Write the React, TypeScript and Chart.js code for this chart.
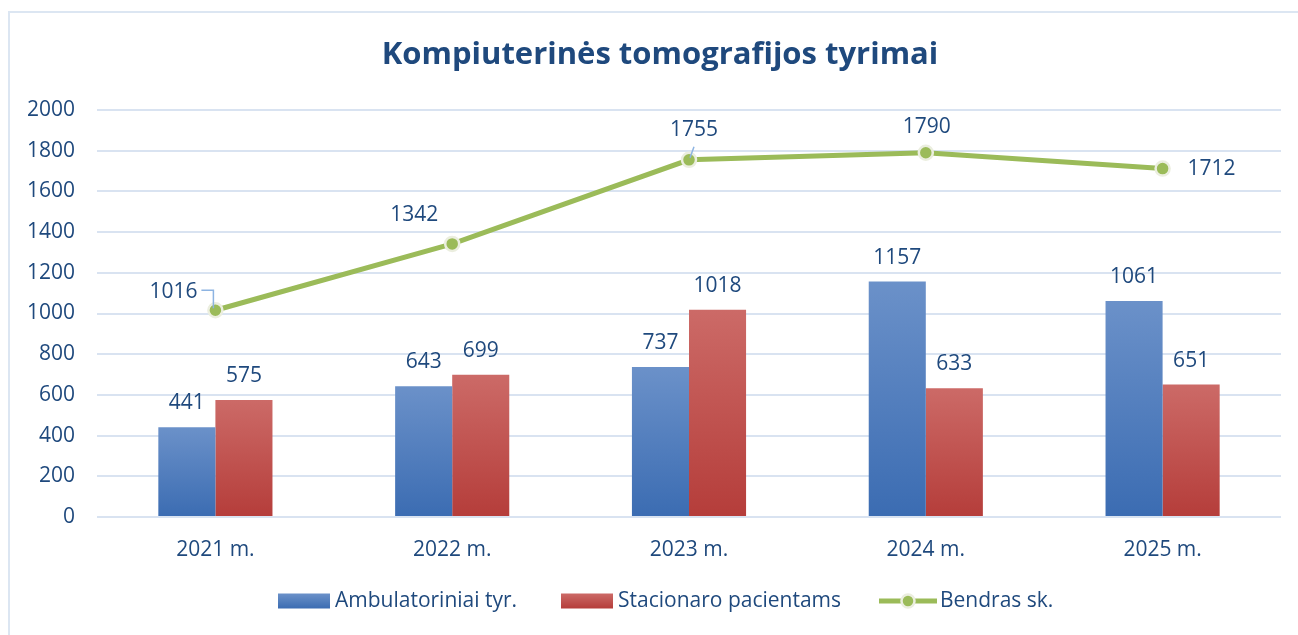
import React, { useEffect, useRef } from "react";
import { Chart, registerables } from "chart.js";

Chart.register(...registerables);

const categories = ["2021 m.", "2022 m.", "2023 m.", "2024 m.", "2025 m."];
const ambulatoriniai = [441, 643, 737, 1157, 1061];
const stacionaro = [575, 699, 1018, 633, 651];
const bendras = [1016, 1342, 1755, 1790, 1712];
const seriesNames = ["Ambulatoriniai tyr.", "Stacionaro pacientams", "Bendras sk."];
const yMin = 0;
const yMax = 2000;
const yStep = 200;
const title = "Kompiuterinės tomografijos tyrimai";

// label placement offsets (styling) for line data labels, relative to point
const lineLabelOffsets = [
  [-42, -18],
  [-38, -29],
  [5, -30],
  [1, -26],
  [49, 0],
];

const TEXT = "#1F497D";
const FONT = "'Open Sans', Lato, sans-serif";
const FS = 21;
const GREEN = "#9BBB59";
const POINT_BORDER = "#EBEEDF";
const BLUE_TOP = "#6B91C9";
const BLUE_BOT = "#3B6CB2";
const RED_TOP = "#CC6A67";
const RED_BOT = "#B53D3A";

function barGradient(ctx: any, top: string, bot: string) {
  const chart = ctx.chart;
  if (!chart.chartArea || ctx.raw == null) return bot;
  const ys = chart.scales.y;
  const t = ys.getPixelForValue(ctx.raw);
  const b = ys.getPixelForValue(0);
  const g = chart.ctx.createLinearGradient(0, t, 0, b);
  g.addColorStop(0, top);
  g.addColorStop(1, bot);
  return g;
}

const decorPlugin = {
  id: "decor",
  afterDatasetsDraw(chart: any) {
    const c = chart.ctx;
    c.save();
    c.font = `${FS}px ${FONT}`;
    c.fillStyle = TEXT;
    c.textAlign = "center";
    c.textBaseline = "middle";
    [0, 1].forEach((di) => {
      const meta = chart.getDatasetMeta(di);
      meta.data.forEach((el: any, i: number) => {
        const v = chart.data.datasets[di].data[i];
        c.fillText(String(v), el.x, el.y - 24);
      });
    });
    const lm = chart.getDatasetMeta(2);
    // leader lines
    c.strokeStyle = "#8DB4E2";
    c.lineWidth = 1.5;
    const p0 = lm.data[0];
    c.beginPath();
    c.moveTo(p0.x - 14, p0.y - 20);
    c.lineTo(p0.x - 2, p0.y - 20);
    c.lineTo(p0.x - 2, p0.y - 2);
    c.stroke();
    const p2 = lm.data[2];
    c.beginPath();
    c.moveTo(p2.x + 5, p2.y - 13);
    c.lineTo(p2.x + 1, p2.y - 2);
    c.stroke();
    lm.data.forEach((el: any, i: number) => {
      const v = chart.data.datasets[2].data[i];
      const o = lineLabelOffsets[i];
      c.fillText(String(v), el.x + o[0], el.y + o[1]);
    });
    c.restore();
  },
  afterDraw(chart: any) {
    const c = chart.ctx;
    c.save();
    // title
    c.font = `bold 31px ${FONT}`;
    c.fillStyle = TEXT;
    c.textAlign = "center";
    c.textBaseline = "middle";
    c.fillText(title, 650, 42);
    // legend
    c.font = `${FS}px ${FONT}`;
    c.textAlign = "left";
    const ly = 588;
    const drawBox = (x: number, top: string, bot: string) => {
      const g = c.createLinearGradient(0, ly - 7.5, 0, ly + 7.5);
      g.addColorStop(0, top);
      g.addColorStop(1, bot);
      c.fillStyle = g;
      c.fillRect(x, ly - 7.5, 52, 15);
    };
    drawBox(268, BLUE_TOP, BLUE_BOT);
    c.fillStyle = TEXT;
    c.fillText(seriesNames[0], 325, ly);
    drawBox(551, RED_TOP, RED_BOT);
    c.fillStyle = TEXT;
    c.fillText(seriesNames[1], 608, ly);
    c.strokeStyle = GREEN;
    c.lineWidth = 5;
    c.beginPath();
    c.moveTo(869, ly);
    c.lineTo(927, ly);
    c.stroke();
    c.beginPath();
    c.arc(898, ly, 6.5, 0, Math.PI * 2);
    c.fillStyle = GREEN;
    c.fill();
    c.lineWidth = 2.5;
    c.strokeStyle = POINT_BORDER;
    c.stroke();
    c.fillStyle = TEXT;
    c.fillText(seriesNames[2], 930, ly);
    c.restore();
  },
};

export default function App() {
  const ref = useRef<HTMLCanvasElement>(null);
  useEffect(() => {
    if (!ref.current) return;
    const chart = new Chart(ref.current, {
      type: "bar",
      data: {
        labels: categories,
        datasets: [
          {
            type: "bar",
            label: seriesNames[0],
            data: ambulatoriniai,
            backgroundColor: (ctx: any) => barGradient(ctx, BLUE_TOP, BLUE_BOT),
            categoryPercentage: 0.482,
            barPercentage: 1,
            order: 2,
          },
          {
            type: "bar",
            label: seriesNames[1],
            data: stacionaro,
            backgroundColor: (ctx: any) => barGradient(ctx, RED_TOP, RED_BOT),
            categoryPercentage: 0.482,
            barPercentage: 1,
            order: 2,
          },
          {
            type: "line",
            label: seriesNames[2],
            data: bendras,
            borderColor: GREEN,
            borderWidth: 5,
            backgroundColor: GREEN,
            pointRadius: 7,
            pointBackgroundColor: GREEN,
            pointBorderColor: POINT_BORDER,
            pointBorderWidth: 2.5,
            tension: 0,
            order: 0,
          } as any,
        ],
      },
      options: {
        animation: false,
        responsive: false,
        maintainAspectRatio: false,
        layout: { padding: { top: 97, right: 17, left: 0, bottom: 0 } },
        plugins: {
          legend: { display: false },
          title: { display: false },
          tooltip: { enabled: false },
        },
        scales: {
          x: {
            grid: { display: false, drawTicks: false },
            border: { display: false },
            ticks: { color: TEXT, font: { family: FONT, size: FS }, padding: 20 },
            afterFit: (s: any) => {
              s.height = 118;
            },
          },
          y: {
            min: yMin,
            max: yMax,
            grid: { color: "#D9E3F1", lineWidth: 2, drawTicks: false },
            border: { display: false },
            ticks: {
              stepSize: yStep,
              color: TEXT,
              font: { family: FONT, size: FS },
              padding: 22,
              callback: (v: any) => String(v),
            },
            afterFit: (s: any) => {
              s.width = 87;
            },
          },
        },
      },
      plugins: [decorPlugin],
    } as any);
    return () => chart.destroy();
  }, []);
  return (
    <div
      style={{
        position: "fixed",
        left: 8,
        top: 11,
        width: 1290,
        height: 624,
        boxSizing: "border-box",
        borderTop: "2px solid #DCE6F2",
        borderLeft: "2px solid #DCE6F2",
        background: "#fff",
      }}
    >
      <canvas ref={ref} width={1288} height={622} style={{ display: "block" }} />
    </div>
  );
}
